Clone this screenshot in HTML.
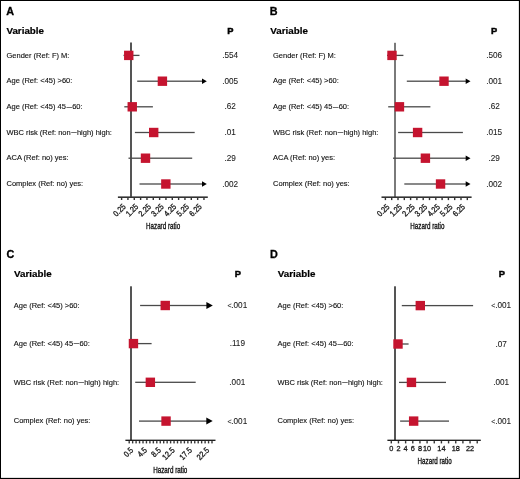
<!DOCTYPE html>
<html><head><meta charset="utf-8"><style>
html,body{margin:0;padding:0;background:#fff;}
svg{display:block;font-family:"Liberation Sans", sans-serif;will-change:transform;}
</style></head><body>
<svg width="520" height="479" viewBox="0 0 520 479">
<rect x="0" y="0" width="520" height="479" fill="#fff"/>
<rect x="0" y="0" width="520" height="1" fill="#000"/><rect x="0" y="0" width="1" height="479" fill="#000"/><rect x="518.88" y="0" width="1.12" height="479" fill="#000"/><rect x="0" y="477.88" width="520" height="1.12" fill="#000"/>
<text transform="translate(6.2,14.7) scale(0.5,0.5)" font-size="21.6" font-weight="bold" text-anchor="start" fill="#000" stroke="#000" stroke-width="0.60">A</text>
<text transform="translate(6.4,33.7) scale(0.5,0.5)" font-size="19.6" font-weight="bold" text-anchor="start" fill="#000" stroke="#000" stroke-width="0.40">Variable</text>
<text transform="translate(230.4,33.7) scale(0.5,0.5)" font-size="18.6" font-weight="bold" text-anchor="middle" fill="#000" stroke="#000" stroke-width="0.90">P</text>
<text transform="translate(6.5,57.6) scale(0.5,0.5)" font-size="15.0" font-weight="normal" text-anchor="start" fill="#111" stroke="#111" stroke-width="0.24">Gender (Ref: F) M:</text>
<text transform="translate(230.2,58.0) scale(0.5,0.5)" font-size="16.4" font-weight="normal" text-anchor="middle" fill="#1a1a1a" stroke="#1a1a1a" stroke-width="0.16">.554</text>
<text transform="translate(6.5,83.4) scale(0.5,0.5)" font-size="15.0" font-weight="normal" text-anchor="start" fill="#111" stroke="#111" stroke-width="0.24">Age (Ref: &lt;45) &gt;60:</text>
<text transform="translate(230.2,83.8) scale(0.5,0.5)" font-size="16.4" font-weight="normal" text-anchor="middle" fill="#1a1a1a" stroke="#1a1a1a" stroke-width="0.16">.005</text>
<text transform="translate(6.5,109.0) scale(0.5,0.5)" font-size="15.0" font-weight="normal" text-anchor="start" fill="#111" stroke="#111" stroke-width="0.24">Age (Ref: &lt;45) 45<tspan dx="1.00" dy="1.14" font-size="19.50">–</tspan><tspan dx="0.60" dy="-1.14">60:</tspan></text>
<text transform="translate(230.2,109.39999999999999) scale(0.5,0.5)" font-size="16.4" font-weight="normal" text-anchor="middle" fill="#1a1a1a" stroke="#1a1a1a" stroke-width="0.16">.62</text>
<text transform="translate(6.5,134.7) scale(0.5,0.5)" font-size="15.0" font-weight="normal" text-anchor="start" fill="#111" stroke="#111" stroke-width="0.24">WBC risk (Ref: non<tspan dx="1.00" dy="1.14" font-size="19.50">–</tspan><tspan dx="0.60" dy="-1.14">high) high:</tspan></text>
<text transform="translate(230.2,135.1) scale(0.5,0.5)" font-size="16.4" font-weight="normal" text-anchor="middle" fill="#1a1a1a" stroke="#1a1a1a" stroke-width="0.16">.01</text>
<text transform="translate(6.5,160.39999999999998) scale(0.5,0.5)" font-size="15.0" font-weight="normal" text-anchor="start" fill="#111" stroke="#111" stroke-width="0.24">ACA (Ref: no) yes:</text>
<text transform="translate(230.2,160.79999999999998) scale(0.5,0.5)" font-size="16.4" font-weight="normal" text-anchor="middle" fill="#1a1a1a" stroke="#1a1a1a" stroke-width="0.16">.29</text>
<text transform="translate(6.5,186.2) scale(0.5,0.5)" font-size="15.0" font-weight="normal" text-anchor="start" fill="#111" stroke="#111" stroke-width="0.24">Complex (Ref: no) yes:</text>
<text transform="translate(230.2,186.6) scale(0.5,0.5)" font-size="16.4" font-weight="normal" text-anchor="middle" fill="#1a1a1a" stroke="#1a1a1a" stroke-width="0.16">.002</text>
<rect x="130.00" y="42.50" width="2.00" height="154.40" fill="#555"/>
<rect x="123.50" y="54.75" width="16.00" height="1.30" fill="#4a4a4a"/>
<rect x="124.05" y="50.70" width="9.40" height="9.40" fill="#c5142f"/>
<rect x="137.20" y="80.55" width="65.60" height="1.30" fill="#4a4a4a"/>
<path d="M202.00 78.45L206.80 81.20L202.00 83.95Z" fill="#000"/>
<rect x="157.70" y="76.50" width="9.40" height="9.40" fill="#c5142f"/>
<rect x="124.30" y="106.15" width="28.60" height="1.30" fill="#4a4a4a"/>
<rect x="127.55" y="102.10" width="9.40" height="9.40" fill="#c5142f"/>
<rect x="134.90" y="131.85" width="59.80" height="1.30" fill="#4a4a4a"/>
<rect x="149.00" y="127.80" width="9.40" height="9.40" fill="#c5142f"/>
<rect x="128.50" y="157.55" width="63.70" height="1.30" fill="#4a4a4a"/>
<rect x="140.80" y="153.50" width="9.40" height="9.40" fill="#c5142f"/>
<rect x="139.50" y="183.35" width="63.30" height="1.30" fill="#4a4a4a"/>
<path d="M202.00 181.25L206.80 184.00L202.00 186.75Z" fill="#000"/>
<rect x="161.15" y="179.30" width="9.40" height="9.40" fill="#c5142f"/>
<rect x="117.90" y="196.40" width="89.90" height="1.60" fill="#333"/>
<rect x="120.90" y="197.70" width="1.40" height="2.30" fill="#333"/>
<rect x="127.23" y="197.70" width="1.40" height="2.30" fill="#333"/>
<rect x="133.57" y="197.70" width="1.40" height="2.30" fill="#333"/>
<rect x="139.91" y="197.70" width="1.40" height="2.30" fill="#333"/>
<rect x="146.24" y="197.70" width="1.40" height="2.30" fill="#333"/>
<rect x="152.58" y="197.70" width="1.40" height="2.30" fill="#333"/>
<rect x="158.91" y="197.70" width="1.40" height="2.30" fill="#333"/>
<rect x="165.25" y="197.70" width="1.40" height="2.30" fill="#333"/>
<rect x="171.58" y="197.70" width="1.40" height="2.30" fill="#333"/>
<rect x="177.92" y="197.70" width="1.40" height="2.30" fill="#333"/>
<rect x="184.25" y="197.70" width="1.40" height="2.30" fill="#333"/>
<rect x="190.59" y="197.70" width="1.40" height="2.30" fill="#333"/>
<rect x="196.92" y="197.70" width="1.40" height="2.30" fill="#333"/>
<rect x="203.25" y="197.70" width="1.40" height="2.30" fill="#333"/>
<text transform="translate(126.20,207.30) rotate(-45) scale(0.43,0.5)" font-size="16.4" text-anchor="end" fill="#222" stroke="#222" stroke-width="0.7">0.25</text>
<text transform="translate(138.87,207.30) rotate(-45) scale(0.43,0.5)" font-size="16.4" text-anchor="end" fill="#222" stroke="#222" stroke-width="0.7">1.25</text>
<text transform="translate(151.54,207.30) rotate(-45) scale(0.43,0.5)" font-size="16.4" text-anchor="end" fill="#222" stroke="#222" stroke-width="0.7">2.25</text>
<text transform="translate(164.21,207.30) rotate(-45) scale(0.43,0.5)" font-size="16.4" text-anchor="end" fill="#222" stroke="#222" stroke-width="0.7">3.25</text>
<text transform="translate(176.88,207.30) rotate(-45) scale(0.43,0.5)" font-size="16.4" text-anchor="end" fill="#222" stroke="#222" stroke-width="0.7">4.25</text>
<text transform="translate(189.55,207.30) rotate(-45) scale(0.43,0.5)" font-size="16.4" text-anchor="end" fill="#222" stroke="#222" stroke-width="0.7">5.25</text>
<text transform="translate(202.22,207.30) rotate(-45) scale(0.43,0.5)" font-size="16.4" text-anchor="end" fill="#222" stroke="#222" stroke-width="0.7">6.25</text>
<text transform="translate(146,229.2) scale(0.36,0.5)" font-size="17.4" fill="#111" stroke="#111" stroke-width="0.7">Hazard ratio</text>
<text transform="translate(269.8,14.7) scale(0.5,0.5)" font-size="21.6" font-weight="bold" text-anchor="start" fill="#000" stroke="#000" stroke-width="0.60">B</text>
<text transform="translate(270.25,33.7) scale(0.5,0.5)" font-size="19.6" font-weight="bold" text-anchor="start" fill="#000" stroke="#000" stroke-width="0.40">Variable</text>
<text transform="translate(494.1,33.7) scale(0.5,0.5)" font-size="18.6" font-weight="bold" text-anchor="middle" fill="#000" stroke="#000" stroke-width="0.90">P</text>
<text transform="translate(273.0,57.6) scale(0.5,0.5)" font-size="15.0" font-weight="normal" text-anchor="start" fill="#111" stroke="#111" stroke-width="0.24">Gender (Ref: F) M:</text>
<text transform="translate(494.2,58.0) scale(0.5,0.5)" font-size="16.4" font-weight="normal" text-anchor="middle" fill="#1a1a1a" stroke="#1a1a1a" stroke-width="0.16">.506</text>
<text transform="translate(273.0,83.4) scale(0.5,0.5)" font-size="15.0" font-weight="normal" text-anchor="start" fill="#111" stroke="#111" stroke-width="0.24">Age (Ref: &lt;45) &gt;60:</text>
<text transform="translate(494.2,83.8) scale(0.5,0.5)" font-size="16.4" font-weight="normal" text-anchor="middle" fill="#1a1a1a" stroke="#1a1a1a" stroke-width="0.16">.001</text>
<text transform="translate(273.0,109.0) scale(0.5,0.5)" font-size="15.0" font-weight="normal" text-anchor="start" fill="#111" stroke="#111" stroke-width="0.24">Age (Ref: &lt;45) 45<tspan dx="1.00" dy="1.14" font-size="19.50">–</tspan><tspan dx="0.60" dy="-1.14">60:</tspan></text>
<text transform="translate(494.2,109.39999999999999) scale(0.5,0.5)" font-size="16.4" font-weight="normal" text-anchor="middle" fill="#1a1a1a" stroke="#1a1a1a" stroke-width="0.16">.62</text>
<text transform="translate(273.0,134.7) scale(0.5,0.5)" font-size="15.0" font-weight="normal" text-anchor="start" fill="#111" stroke="#111" stroke-width="0.24">WBC risk (Ref: non<tspan dx="1.00" dy="1.14" font-size="19.50">–</tspan><tspan dx="0.60" dy="-1.14">high) high:</tspan></text>
<text transform="translate(494.2,135.1) scale(0.5,0.5)" font-size="16.4" font-weight="normal" text-anchor="middle" fill="#1a1a1a" stroke="#1a1a1a" stroke-width="0.16">.015</text>
<text transform="translate(273.0,160.39999999999998) scale(0.5,0.5)" font-size="15.0" font-weight="normal" text-anchor="start" fill="#111" stroke="#111" stroke-width="0.24">ACA (Ref: no) yes:</text>
<text transform="translate(494.2,160.79999999999998) scale(0.5,0.5)" font-size="16.4" font-weight="normal" text-anchor="middle" fill="#1a1a1a" stroke="#1a1a1a" stroke-width="0.16">.29</text>
<text transform="translate(273.0,186.2) scale(0.5,0.5)" font-size="15.0" font-weight="normal" text-anchor="start" fill="#111" stroke="#111" stroke-width="0.24">Complex (Ref: no) yes:</text>
<text transform="translate(494.2,186.6) scale(0.5,0.5)" font-size="16.4" font-weight="normal" text-anchor="middle" fill="#1a1a1a" stroke="#1a1a1a" stroke-width="0.16">.002</text>
<rect x="394.00" y="42.80" width="2.00" height="154.20" fill="#7a7a7a"/>
<rect x="387.00" y="54.75" width="16.40" height="1.30" fill="#4a4a4a"/>
<rect x="387.30" y="50.70" width="9.40" height="9.40" fill="#c5142f"/>
<rect x="406.80" y="80.55" width="59.70" height="1.30" fill="#4a4a4a"/>
<path d="M465.70 78.45L470.50 81.20L465.70 83.95Z" fill="#000"/>
<rect x="439.30" y="76.50" width="9.40" height="9.40" fill="#c5142f"/>
<rect x="388.20" y="106.15" width="42.20" height="1.30" fill="#4a4a4a"/>
<rect x="394.75" y="102.10" width="9.40" height="9.40" fill="#c5142f"/>
<rect x="398.10" y="131.85" width="64.80" height="1.30" fill="#4a4a4a"/>
<rect x="412.90" y="127.80" width="9.40" height="9.40" fill="#c5142f"/>
<rect x="393.00" y="157.55" width="73.50" height="1.30" fill="#4a4a4a"/>
<path d="M465.70 155.45L470.50 158.20L465.70 160.95Z" fill="#000"/>
<rect x="420.70" y="153.50" width="9.40" height="9.40" fill="#c5142f"/>
<rect x="404.30" y="183.35" width="62.20" height="1.30" fill="#4a4a4a"/>
<path d="M465.70 181.25L470.50 184.00L465.70 186.75Z" fill="#000"/>
<rect x="435.85" y="179.30" width="9.40" height="9.40" fill="#c5142f"/>
<rect x="381.50" y="196.40" width="90.10" height="1.60" fill="#333"/>
<rect x="384.70" y="197.80" width="1.40" height="2.30" fill="#333"/>
<rect x="391.00" y="197.80" width="1.40" height="2.30" fill="#333"/>
<rect x="397.30" y="197.80" width="1.40" height="2.30" fill="#333"/>
<rect x="403.60" y="197.80" width="1.40" height="2.30" fill="#333"/>
<rect x="409.90" y="197.80" width="1.40" height="2.30" fill="#333"/>
<rect x="416.20" y="197.80" width="1.40" height="2.30" fill="#333"/>
<rect x="422.50" y="197.80" width="1.40" height="2.30" fill="#333"/>
<rect x="428.80" y="197.80" width="1.40" height="2.30" fill="#333"/>
<rect x="435.10" y="197.80" width="1.40" height="2.30" fill="#333"/>
<rect x="441.40" y="197.80" width="1.40" height="2.30" fill="#333"/>
<rect x="447.70" y="197.80" width="1.40" height="2.30" fill="#333"/>
<rect x="454.00" y="197.80" width="1.40" height="2.30" fill="#333"/>
<rect x="460.30" y="197.80" width="1.40" height="2.30" fill="#333"/>
<rect x="466.60" y="197.80" width="1.40" height="2.30" fill="#333"/>
<text transform="translate(390.00,207.40) rotate(-45) scale(0.43,0.5)" font-size="16.4" text-anchor="end" fill="#222" stroke="#222" stroke-width="0.7">0.25</text>
<text transform="translate(402.60,207.40) rotate(-45) scale(0.43,0.5)" font-size="16.4" text-anchor="end" fill="#222" stroke="#222" stroke-width="0.7">1.25</text>
<text transform="translate(415.20,207.40) rotate(-45) scale(0.43,0.5)" font-size="16.4" text-anchor="end" fill="#222" stroke="#222" stroke-width="0.7">2.25</text>
<text transform="translate(427.80,207.40) rotate(-45) scale(0.43,0.5)" font-size="16.4" text-anchor="end" fill="#222" stroke="#222" stroke-width="0.7">3.25</text>
<text transform="translate(440.40,207.40) rotate(-45) scale(0.43,0.5)" font-size="16.4" text-anchor="end" fill="#222" stroke="#222" stroke-width="0.7">4.25</text>
<text transform="translate(453.00,207.40) rotate(-45) scale(0.43,0.5)" font-size="16.4" text-anchor="end" fill="#222" stroke="#222" stroke-width="0.7">5.25</text>
<text transform="translate(465.60,207.40) rotate(-45) scale(0.43,0.5)" font-size="16.4" text-anchor="end" fill="#222" stroke="#222" stroke-width="0.7">6.25</text>
<text transform="translate(410.3,229.2) scale(0.36,0.5)" font-size="17.4" fill="#111" stroke="#111" stroke-width="0.7">Hazard ratio</text>
<text transform="translate(6.5,258.1) scale(0.5,0.5)" font-size="21.6" font-weight="bold" text-anchor="start" fill="#000" stroke="#000" stroke-width="0.60">C</text>
<text transform="translate(14,277.3) scale(0.5,0.5)" font-size="19.6" font-weight="bold" text-anchor="start" fill="#000" stroke="#000" stroke-width="0.40">Variable</text>
<text transform="translate(237.8,277.3) scale(0.5,0.5)" font-size="18.6" font-weight="bold" text-anchor="middle" fill="#000" stroke="#000" stroke-width="0.90">P</text>
<text transform="translate(13.75,307.7) scale(0.5,0.5)" font-size="15.0" font-weight="normal" text-anchor="start" fill="#111" stroke="#111" stroke-width="0.24">Age (Ref: &lt;45) &gt;60:</text>
<text transform="translate(237.3,308.1) scale(0.5,0.5)" font-size="16.4" font-weight="normal" text-anchor="middle" fill="#1a1a1a" stroke="#1a1a1a" stroke-width="0.16"><tspan font-size="13.94" dy="-0.20">&lt;</tspan><tspan dy="0.20" dx="-0.40">.001</tspan></text>
<text transform="translate(13.75,345.8) scale(0.5,0.5)" font-size="15.0" font-weight="normal" text-anchor="start" fill="#111" stroke="#111" stroke-width="0.24">Age (Ref: &lt;45) 45<tspan dx="1.00" dy="1.14" font-size="19.50">–</tspan><tspan dx="0.60" dy="-1.14">60:</tspan></text>
<text transform="translate(237.3,346.20000000000005) scale(0.5,0.5)" font-size="16.4" font-weight="normal" text-anchor="middle" fill="#1a1a1a" stroke="#1a1a1a" stroke-width="0.16">.119</text>
<text transform="translate(13.75,384.5) scale(0.5,0.5)" font-size="15.0" font-weight="normal" text-anchor="start" fill="#111" stroke="#111" stroke-width="0.24">WBC risk (Ref: non<tspan dx="1.00" dy="1.14" font-size="19.50">–</tspan><tspan dx="0.60" dy="-1.14">high) high:</tspan></text>
<text transform="translate(237.3,384.90000000000003) scale(0.5,0.5)" font-size="16.4" font-weight="normal" text-anchor="middle" fill="#1a1a1a" stroke="#1a1a1a" stroke-width="0.16">.001</text>
<text transform="translate(13.75,423.3) scale(0.5,0.5)" font-size="15.0" font-weight="normal" text-anchor="start" fill="#111" stroke="#111" stroke-width="0.24">Complex (Ref: no) yes:</text>
<text transform="translate(237.3,423.70000000000005) scale(0.5,0.5)" font-size="16.4" font-weight="normal" text-anchor="middle" fill="#1a1a1a" stroke="#1a1a1a" stroke-width="0.16"><tspan font-size="13.94" dy="-0.20">&lt;</tspan><tspan dy="0.20" dx="-0.40">.001</tspan></text>
<rect x="130.00" y="286.30" width="2.00" height="154.00" fill="#555"/>
<rect x="140.10" y="304.85" width="68.70" height="1.30" fill="#4a4a4a"/>
<path d="M206.40 302.00L212.80 305.50L206.40 309.00Z" fill="#000"/>
<rect x="160.55" y="300.80" width="9.40" height="9.40" fill="#c5142f"/>
<rect x="131.00" y="342.95" width="20.60" height="1.30" fill="#4a4a4a"/>
<rect x="128.75" y="338.90" width="9.40" height="9.40" fill="#c5142f"/>
<rect x="135.20" y="381.65" width="60.50" height="1.30" fill="#4a4a4a"/>
<rect x="145.65" y="377.60" width="9.40" height="9.40" fill="#c5142f"/>
<rect x="139.00" y="420.45" width="69.70" height="1.30" fill="#4a4a4a"/>
<path d="M206.30 417.60L212.70 421.10L206.30 424.60Z" fill="#000"/>
<rect x="161.35" y="416.40" width="9.40" height="9.40" fill="#c5142f"/>
<rect x="125.40" y="439.65" width="90.10" height="1.30" fill="#151515"/>
<rect x="128.50" y="441.10" width="1.40" height="2.30" fill="#333"/>
<rect x="131.95" y="441.10" width="1.40" height="2.30" fill="#333"/>
<rect x="135.40" y="441.10" width="1.40" height="2.30" fill="#333"/>
<rect x="138.85" y="441.10" width="1.40" height="2.30" fill="#333"/>
<rect x="142.30" y="441.10" width="1.40" height="2.30" fill="#333"/>
<rect x="145.75" y="441.10" width="1.40" height="2.30" fill="#333"/>
<rect x="149.20" y="441.10" width="1.40" height="2.30" fill="#333"/>
<rect x="152.65" y="441.10" width="1.40" height="2.30" fill="#333"/>
<rect x="156.10" y="441.10" width="1.40" height="2.30" fill="#333"/>
<rect x="159.55" y="441.10" width="1.40" height="2.30" fill="#333"/>
<rect x="163.00" y="441.10" width="1.40" height="2.30" fill="#333"/>
<rect x="166.45" y="441.10" width="1.40" height="2.30" fill="#333"/>
<rect x="169.90" y="441.10" width="1.40" height="2.30" fill="#333"/>
<rect x="173.35" y="441.10" width="1.40" height="2.30" fill="#333"/>
<rect x="176.80" y="441.10" width="1.40" height="2.30" fill="#333"/>
<rect x="180.25" y="441.10" width="1.40" height="2.30" fill="#333"/>
<rect x="183.70" y="441.10" width="1.40" height="2.30" fill="#333"/>
<rect x="187.15" y="441.10" width="1.40" height="2.30" fill="#333"/>
<rect x="190.60" y="441.10" width="1.40" height="2.30" fill="#333"/>
<rect x="194.05" y="441.10" width="1.40" height="2.30" fill="#333"/>
<rect x="197.50" y="441.10" width="1.40" height="2.30" fill="#333"/>
<rect x="200.95" y="441.10" width="1.40" height="2.30" fill="#333"/>
<rect x="204.40" y="441.10" width="1.40" height="2.30" fill="#333"/>
<rect x="207.85" y="441.10" width="1.40" height="2.30" fill="#333"/>
<rect x="211.30" y="441.10" width="1.40" height="2.30" fill="#333"/>
<text transform="translate(133.80,450.70) rotate(-45) scale(0.43,0.5)" font-size="16.4" text-anchor="end" fill="#222" stroke="#222" stroke-width="0.7">0.5</text>
<text transform="translate(147.60,450.70) rotate(-45) scale(0.43,0.5)" font-size="16.4" text-anchor="end" fill="#222" stroke="#222" stroke-width="0.7">4.5</text>
<text transform="translate(161.40,450.70) rotate(-45) scale(0.43,0.5)" font-size="16.4" text-anchor="end" fill="#222" stroke="#222" stroke-width="0.7">8.5</text>
<text transform="translate(175.20,450.70) rotate(-45) scale(0.43,0.5)" font-size="16.4" text-anchor="end" fill="#222" stroke="#222" stroke-width="0.7">12.5</text>
<text transform="translate(192.45,450.70) rotate(-45) scale(0.43,0.5)" font-size="16.4" text-anchor="end" fill="#222" stroke="#222" stroke-width="0.7">17.5</text>
<text transform="translate(209.70,450.70) rotate(-45) scale(0.43,0.5)" font-size="16.4" text-anchor="end" fill="#222" stroke="#222" stroke-width="0.7">22.5</text>
<text transform="translate(153.2,473.3) scale(0.36,0.5)" font-size="17.4" fill="#111" stroke="#111" stroke-width="0.7">Hazard ratio</text>
<text transform="translate(269.9,258.1) scale(0.5,0.5)" font-size="21.6" font-weight="bold" text-anchor="start" fill="#000" stroke="#000" stroke-width="0.60">D</text>
<text transform="translate(277.75,277.3) scale(0.5,0.5)" font-size="19.6" font-weight="bold" text-anchor="start" fill="#000" stroke="#000" stroke-width="0.40">Variable</text>
<text transform="translate(501.75,277.3) scale(0.5,0.5)" font-size="18.6" font-weight="bold" text-anchor="middle" fill="#000" stroke="#000" stroke-width="0.90">P</text>
<text transform="translate(277.5,307.8) scale(0.5,0.5)" font-size="15.0" font-weight="normal" text-anchor="start" fill="#111" stroke="#111" stroke-width="0.24">Age (Ref: &lt;45) &gt;60:</text>
<text transform="translate(501.2,308.20000000000005) scale(0.5,0.5)" font-size="16.4" font-weight="normal" text-anchor="middle" fill="#1a1a1a" stroke="#1a1a1a" stroke-width="0.16"><tspan font-size="13.94" dy="-0.20">&lt;</tspan><tspan dy="0.20" dx="-0.40">.001</tspan></text>
<text transform="translate(277.5,346.2) scale(0.5,0.5)" font-size="15.0" font-weight="normal" text-anchor="start" fill="#111" stroke="#111" stroke-width="0.24">Age (Ref: &lt;45) 45<tspan dx="1.00" dy="1.14" font-size="19.50">–</tspan><tspan dx="0.60" dy="-1.14">60:</tspan></text>
<text transform="translate(501.2,346.6) scale(0.5,0.5)" font-size="16.4" font-weight="normal" text-anchor="middle" fill="#1a1a1a" stroke="#1a1a1a" stroke-width="0.16">.07</text>
<text transform="translate(277.5,384.59999999999997) scale(0.5,0.5)" font-size="15.0" font-weight="normal" text-anchor="start" fill="#111" stroke="#111" stroke-width="0.24">WBC risk (Ref: non<tspan dx="1.00" dy="1.14" font-size="19.50">–</tspan><tspan dx="0.60" dy="-1.14">high) high:</tspan></text>
<text transform="translate(501.2,385.0) scale(0.5,0.5)" font-size="16.4" font-weight="normal" text-anchor="middle" fill="#1a1a1a" stroke="#1a1a1a" stroke-width="0.16">.001</text>
<text transform="translate(277.5,423.3) scale(0.5,0.5)" font-size="15.0" font-weight="normal" text-anchor="start" fill="#111" stroke="#111" stroke-width="0.24">Complex (Ref: no) yes:</text>
<text transform="translate(501.2,423.70000000000005) scale(0.5,0.5)" font-size="16.4" font-weight="normal" text-anchor="middle" fill="#1a1a1a" stroke="#1a1a1a" stroke-width="0.16"><tspan font-size="13.94" dy="-0.20">&lt;</tspan><tspan dy="0.20" dx="-0.40">.001</tspan></text>
<rect x="394.00" y="286.30" width="2.00" height="154.00" fill="#555"/>
<rect x="401.80" y="304.95" width="71.30" height="1.30" fill="#4a4a4a"/>
<rect x="415.60" y="300.90" width="9.40" height="9.40" fill="#c5142f"/>
<rect x="396.00" y="343.35" width="12.60" height="1.30" fill="#4a4a4a"/>
<rect x="393.30" y="339.30" width="9.40" height="9.40" fill="#c5142f"/>
<rect x="399.00" y="381.75" width="47.00" height="1.30" fill="#4a4a4a"/>
<rect x="406.75" y="377.70" width="9.40" height="9.40" fill="#c5142f"/>
<rect x="400.10" y="420.45" width="48.90" height="1.30" fill="#4a4a4a"/>
<rect x="408.95" y="416.40" width="9.40" height="9.40" fill="#c5142f"/>
<rect x="387.40" y="439.65" width="93.40" height="1.30" fill="#151515"/>
<rect x="390.60" y="441.10" width="1.40" height="2.30" fill="#333"/>
<rect x="397.76" y="441.10" width="1.40" height="2.30" fill="#333"/>
<rect x="404.92" y="441.10" width="1.40" height="2.30" fill="#333"/>
<rect x="412.08" y="441.10" width="1.40" height="2.30" fill="#333"/>
<rect x="419.24" y="441.10" width="1.40" height="2.30" fill="#333"/>
<rect x="426.40" y="441.10" width="1.40" height="2.30" fill="#333"/>
<rect x="433.56" y="441.10" width="1.40" height="2.30" fill="#333"/>
<rect x="440.72" y="441.10" width="1.40" height="2.30" fill="#333"/>
<rect x="447.88" y="441.10" width="1.40" height="2.30" fill="#333"/>
<rect x="455.04" y="441.10" width="1.40" height="2.30" fill="#333"/>
<rect x="462.20" y="441.10" width="1.40" height="2.30" fill="#333"/>
<rect x="469.36" y="441.10" width="1.40" height="2.30" fill="#333"/>
<rect x="476.52" y="441.10" width="1.40" height="2.30" fill="#333"/>
<text transform="translate(391.30,451.20) scale(0.46,0.5)" font-size="16.0" text-anchor="middle" fill="#1a1a1a" stroke="#1a1a1a" stroke-width="0.6">0</text>
<text transform="translate(398.46,451.20) scale(0.46,0.5)" font-size="16.0" text-anchor="middle" fill="#1a1a1a" stroke="#1a1a1a" stroke-width="0.6">2</text>
<text transform="translate(405.62,451.20) scale(0.46,0.5)" font-size="16.0" text-anchor="middle" fill="#1a1a1a" stroke="#1a1a1a" stroke-width="0.6">4</text>
<text transform="translate(412.78,451.20) scale(0.46,0.5)" font-size="16.0" text-anchor="middle" fill="#1a1a1a" stroke="#1a1a1a" stroke-width="0.6">6</text>
<text transform="translate(419.94,451.20) scale(0.46,0.5)" font-size="16.0" text-anchor="middle" fill="#1a1a1a" stroke="#1a1a1a" stroke-width="0.6">8</text>
<text transform="translate(427.10,451.20) scale(0.46,0.5)" font-size="16.0" text-anchor="middle" fill="#1a1a1a" stroke="#1a1a1a" stroke-width="0.6">10</text>
<text transform="translate(441.42,451.20) scale(0.46,0.5)" font-size="16.0" text-anchor="middle" fill="#1a1a1a" stroke="#1a1a1a" stroke-width="0.6">14</text>
<text transform="translate(455.74,451.20) scale(0.46,0.5)" font-size="16.0" text-anchor="middle" fill="#1a1a1a" stroke="#1a1a1a" stroke-width="0.6">18</text>
<text transform="translate(470.06,451.20) scale(0.46,0.5)" font-size="16.0" text-anchor="middle" fill="#1a1a1a" stroke="#1a1a1a" stroke-width="0.6">22</text>
<text transform="translate(417.6,464.4) scale(0.36,0.5)" font-size="17.4" fill="#111" stroke="#111" stroke-width="0.7">Hazard ratio</text>
</svg>
</body></html>
